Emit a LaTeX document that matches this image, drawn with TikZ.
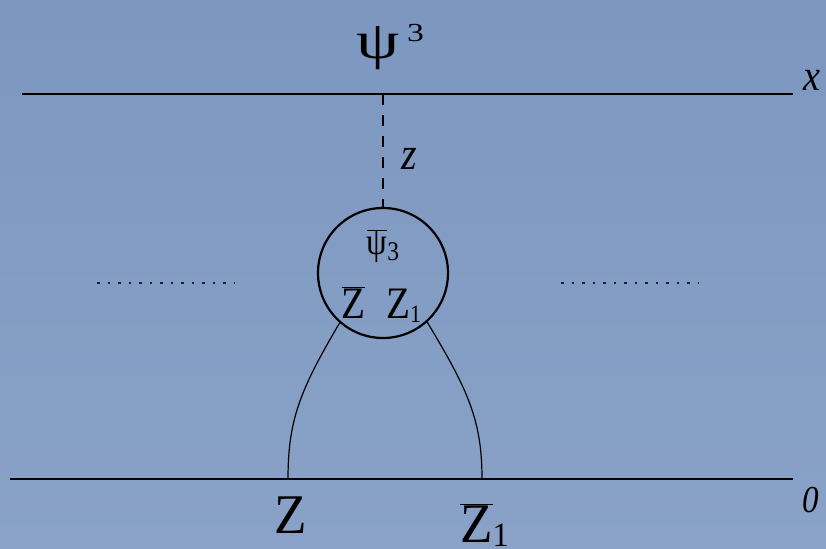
\documentclass[tikz,border=0pt]{standalone}
\usepackage{fontspec}
\usepackage{graphicx}
\setmainfont{Liberation Serif}
\newcommand\fsz[1]{\fontsize{#1}{#1}\selectfont}
\newcommand\nar[1]{\scalebox{0.87}[1]{#1}}
\definecolor{bgtop}{HTML}{7C97C0}
\definecolor{bgbot}{HTML}{8AA2C7}
\definecolor{dotc}{HTML}{1E232C}
\begin{document}
\begin{tikzpicture}[x=1pt,y=-1pt,
  axisline/.style={line width=2.4pt},
  wire/.style={line width=1.2pt},
  dashline/.style={line width=1.3pt, dash pattern=on 11pt off 10pt},
  dotline/.style={line width=2.6pt, dotc, dash pattern=on 2.6pt off 7.9pt},
  lbl/.style={inner sep=0pt, text=black}]
\path[use as bounding box, top color=bgtop, bottom color=bgbot] (0,0) rectangle (826,548);
% axes
\coordinate (tl) at (22,94);
\coordinate (tr) at (793,94);
\coordinate (bl) at (10,479);
\coordinate (br) at (793,479);
\draw[axisline] (tl) -- (tr);
\draw[axisline] (bl) -- (br);
% vertex circle
\node[circle, draw, line width=2.2pt, minimum size=130pt, inner sep=0pt] (c) at (383,273) {};
\coordinate (d) at (383,94);
\draw[dashline] (d) -- (c.north);
% dotted lines
\coordinate (dl1) at (97,283);
\coordinate (dl2) at (234,283);
\coordinate (dr1) at (561,283);
\coordinate (dr2) at (698,283);
\draw[dotline] (dl1) -- (dl2);
\draw[dotline] (dr1) -- (dr2);
% wires
\coordinate (zl) at (288,479);
\coordinate (zr) at (482,479);
\draw[wire] (c.229) .. controls (300,390) and (288,420) .. (zl);
\draw[wire] (c.-48) .. controls (468,390) and (482,420) .. (zr);
% labels
\node[lbl] (lx) at (812,80) {\fsz{44}\nar{\itshape x}};
\node[lbl] (l0) at (811,500) {\fsz{38}\nar{\itshape 0}};
\node[lbl] (lz) at (409.5,158.5) {\fsz{46}\nar{\itshape z}};
\node[lbl, anchor=base west] (psi) at (356,59) {\fsz{53}\scalebox{1.3}[1]{ψ\hspace{6pt}\raisebox{17pt}{\fsz{26}3}}};
\node[lbl, anchor=base] (psib) at (383,254) {\fsz{38}\nar{$\overline{\hbox{ψ}}$\raisebox{-6pt}{\fsz{27}3}}};
\node[lbl, anchor=base] (zb) at (353.5,318) {\fsz{45}\nar{$\overline{\hbox{Z}}$}};
\node[lbl, anchor=base west] (z1) at (386,318) {\fsz{45}\nar{Z\raisebox{-4pt}{\fsz{25}1}}};
\node[lbl, anchor=base] (zz) at (291,533) {\fsz{56}\scalebox{0.95}[1]{Z}};
\node[lbl, anchor=base west] (zzb) at (460,542) {\fsz{56}\scalebox{0.95}[1]{$\overline{\hbox{Z}}$\raisebox{-4pt}{\fsz{34}1}}};
\end{tikzpicture}
\end{document}
